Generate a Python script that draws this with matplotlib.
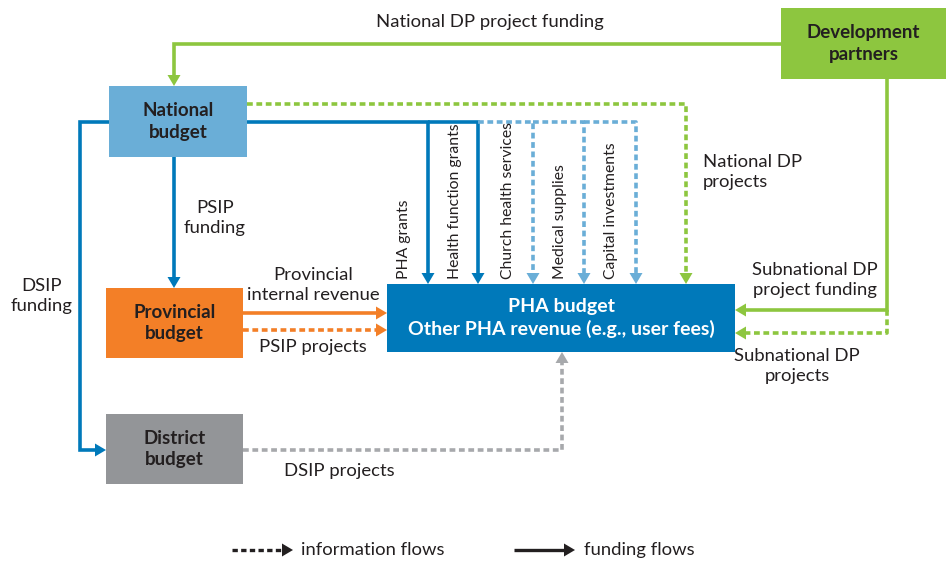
import matplotlib.pyplot as plt
from matplotlib.patches import Rectangle, Polygon

plt.rcParams["font.family"] = ["Lato", "DejaVu Sans"]

W, H = 946, 563

# ── boxes: name -> (x0, y0, x1, y1) in pixel coords, colour, label ───────────
box_names = ["national", "partners", "provincial", "district", "pha"]
box_rects = [(109, 86, 247, 157), (781, 8, 946, 79), (106, 288, 243, 358),
             (106, 414, 243, 484), (387, 284, 735, 352)]
box_colors = ["#6AAED7", "#8DC63F", "#F37F27", "#939598", "#0079BA"]
box_labels = ["National\nbudget", "Development\npartners", "Provincial\nbudget",
              "District\nbudget", "PHA budget\nOther PHA revenue (e.g., user fees)"]
box_text_colors = ["#231F20", "#231F20", "#231F20", "#231F20", "white"]
box_font = [13.5, 13.5, 13.5, 13.5, 14]

# ── flows: polyline points, colour, solid/dashed ─────────────────────────────
BLUE, LBLUE, GREEN, ORANGE, GREY = "#0079BA", "#6AAED7", "#8DC63F", "#F37F27", "#A7A9AC"
flows = [
    ([(781, 44), (174, 44), (174, 86)], GREEN, False),
    ([(247, 104), (686, 104), (686, 284)], GREEN, True),
    ([(247, 122), (428, 122), (428, 284)], BLUE, False),
    ([(428, 122), (478, 122), (478, 284)], BLUE, False),
    ([(478, 122), (533, 122), (533, 284)], LBLUE, True),
    ([(533, 122), (584, 122), (584, 284)], LBLUE, True),
    ([(584, 122), (636, 122), (636, 284)], LBLUE, True),
    ([(109, 122), (80, 122), (80, 450), (106, 450)], BLUE, False),
    ([(174, 157), (174, 288)], BLUE, False),
    ([(243, 313), (387, 313)], ORANGE, False),
    ([(243, 330), (387, 330)], ORANGE, True),
    ([(243, 450), (562, 450), (562, 352)], GREY, True),
    ([(887, 79), (887, 310), (735, 310)], GREEN, False),
    ([(887, 310), (887, 333), (735, 333)], GREEN, True),
]

# ── free labels: (x, y, text, ha) ────────────────────────────────────────────
labels = [
    (490, 22, "National DP project funding", "center"),
    (703, 172, "National DP\nprojects", "left"),
    (42, 296, "DSIP\nfunding", "center"),
    (215, 218, "PSIP\nfunding", "center"),
    (313, 285, "Provincial\ninternal revenue", "center"),
    (313, 347, "PSIP projects", "center"),
    (339, 471, "DSIP projects", "center"),
    (815, 280, "Subnational DP\nproject funding", "center"),
    (797, 366, "Subnational DP\nprojects", "center"),
]
vlabels = [(404, "PHA grants"), (455, "Health function grants"),
           (508, "Church health services"), (560, "Medical supplies"),
           (611, "Capital investments")]


def draw_flow(ax, pts, color, dashed, head=True, lw=2.6):
    (x0, y0), (x1, y1) = pts[-2], pts[-1]
    dx, dy = x1 - x0, y1 - y0
    n = (dx * dx + dy * dy) ** 0.5
    ux, uy = dx / n, dy / n
    L, hw = 11, 6.5
    bx, by = x1 - ux * L, y1 - uy * L
    line = pts[:-1] + [(bx, by)] if head else pts
    xs, ys = zip(*line)
    ls = (0, (1.6, 1.0)) if dashed else "-"
    ax.plot(xs, ys, color=color, lw=lw, ls=ls, solid_capstyle="butt",
            dash_capstyle="butt", solid_joinstyle="miter", zorder=2)
    if head:
        tri = [(x1, y1), (bx - uy * hw, by + ux * hw), (bx + uy * hw, by - ux * hw)]
        ax.add_patch(Polygon(tri, closed=True, color=color, lw=0, zorder=3))


fig = plt.figure(figsize=(W / 100, H / 100), dpi=100)
ax = fig.add_axes([0, 0, 1, 1])
ax.set_xlim(0, W)
ax.set_ylim(H, 0)
ax.axis("off")

for name, (x0, y0, x1, y1), c, lab, tc, fs in zip(box_names, box_rects, box_colors,
                                                   box_labels, box_text_colors, box_font):
    ax.add_patch(Rectangle((x0, y0), x1 - x0, y1 - y0, color=c, lw=0, zorder=4))
    ax.text((x0 + x1) / 2, (y0 + y1) / 2, lab, ha="center", va="center",
            color=tc, fontsize=fs, fontweight="bold", linespacing=1.3, zorder=5)

for pts, c, d in flows:
    draw_flow(ax, pts, c, d)

for x, y, t, ha in labels:
    ax.text(x, y, t, ha=ha, va="center", fontsize=13.3, color="#231F20",
            linespacing=1.3)

for x, t in vlabels:
    ax.text(x, 279, t, rotation=90, ha="center", va="bottom", fontsize=11.3,
            color="#231F20")

# legend
draw_flow(ax, [(232, 550), (293, 550)], "#231F20", True, lw=2.4)
ax.text(301, 550, "information flows", ha="left", va="center", fontsize=13.3,
        color="#231F20")
draw_flow(ax, [(514, 550), (575, 550)], "#231F20", False, lw=2.4)
ax.text(584, 550, "funding flows", ha="left", va="center", fontsize=13.3,
        color="#231F20")

fig.savefig("out.png", dpi=100)
